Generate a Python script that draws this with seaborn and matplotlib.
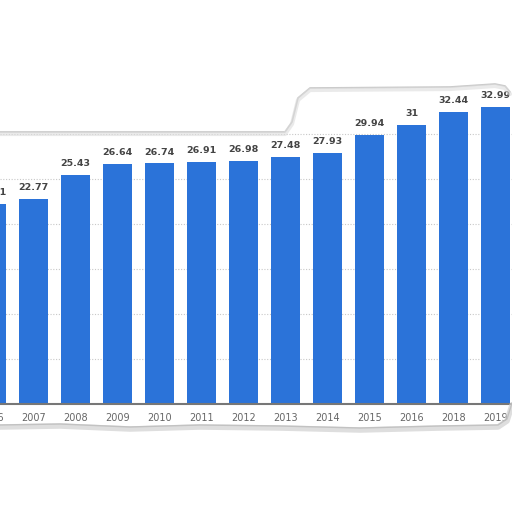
import matplotlib
matplotlib.use("Agg")
import matplotlib.pyplot as plt
import seaborn as sns
import pandas as pd
from matplotlib.lines import Line2D

years = ["2006", "2007", "2008", "2009", "2010", "2011", "2012", "2013",
         "2014", "2015", "2016", "2018", "2019"]
values = [22.21, 22.77, 25.43, 26.64, 26.74, 26.91, 26.98, 27.48,
          27.93, 29.94, 31.0, 32.44, 32.99]
labels = ["22.21", "22.77", "25.43", "26.64", "26.74", "26.91", "26.98",
          "27.48", "27.93", "29.94", "31", "32.44", "32.99"]
grid_values = [5, 10, 15, 20, 25, 30]

sns.set_theme(style="white")
plt.rcParams['font.family'] = ['DejaVu Sans']

df = pd.DataFrame({"year": years, "value": values})

fig = plt.figure(figsize=(5.12, 5.12), dpi=100)
ax = fig.add_axes([0, 0, 1, 1])
sns.barplot(data=df, x="year", y="value", color="#2b73d9", width=0.69,
            saturation=1, ax=ax, zorder=3, edgecolor="none")

for g in grid_values:
    ax.axhline(g, color="#c8c8c8", lw=0.8, ls=(0, (1, 1.5)), zorder=1)

ax.axhline(0, color="#777777", lw=1.5, zorder=4)

for i, (v, t) in enumerate(zip(values, labels)):
    ax.text(i, v + 0.75, t, ha="center", va="bottom", fontsize=6.8,
            fontweight="bold", color="#444444", zorder=5)
    ax.text(i, -1.05, years[i], ha="center", va="top", fontsize=7,
            color="#666666", zorder=5)

ax.set_xlim(0.202, 12.393)
ax.set_ylim(-12, 44.89)
ax.axis("off")

# paper-like outline decoration (figure pixel coords -> fraction)
def fx(px):
    return px / 512.0

def fy(py):
    return 1 - py / 512.0

top_x = [0, 285, 292, 298, 310, 450, 495, 505, 510]
top_y = [132, 132, 122, 98, 88, 87, 84, 86, 92]
fig.add_artist(Line2D([fx(x) for x in top_x], [fy(y) for y in top_y],
                      color="#bbbbbb", lw=1.2, alpha=0.8))
fig.add_artist(Line2D([fx(x) for x in top_x], [fy(y + 2) for y in top_y],
                      color="#dddddd", lw=3, alpha=0.6))
bot_x = [0, 60, 130, 200, 280, 360, 440, 498, 507, 512]
bot_y = [427, 426, 429, 427, 428, 430, 428, 427, 421, 405]
fig.add_artist(Line2D([fx(x) for x in bot_x], [fy(y) for y in bot_y],
                      color="#d0d0d0", lw=4, alpha=0.7))
fig.add_artist(Line2D([fx(x) for x in bot_x], [fy(y - 2) for y in bot_y],
                      color="#bbbbbb", lw=1, alpha=0.8))

fig.savefig("out.png", dpi=100, facecolor="white")
